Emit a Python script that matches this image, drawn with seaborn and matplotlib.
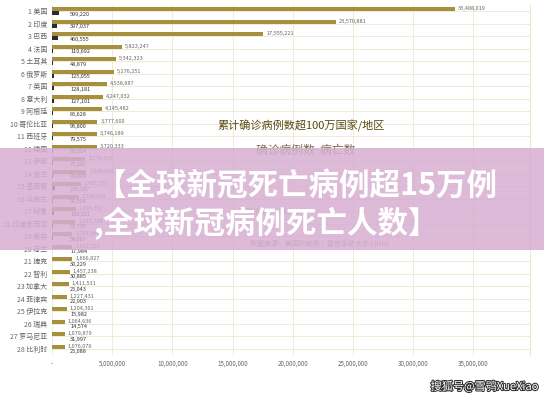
import matplotlib
matplotlib.use("Agg")
import matplotlib.pyplot as plt
import matplotlib.patches as mpatches
import matplotlib.patheffects as pe
import pandas as pd
import seaborn as sns

countries = ["美国", "印度", "巴西", "法国", "土耳其", "俄罗斯", "英国", "意大利", "阿根廷",
             "哥伦比亚", "西班牙", "德国", "伊朗", "波兰", "墨西哥", "乌克兰", "秘鲁",
             "印度尼西亚", "南非", "荷兰", "捷克", "智利", "加拿大", "菲律宾", "伊拉克",
             "瑞典", "罗马尼亚", "比利时"]
confirmed = [33488019, 23570881, 17555221, 5823247, 5342323, 5176251, 4538687, 4247032,
             4145482, 3777600, 3746189, 3720333, 2779415, 2849000, 2405351, 2206838,
             2004302, 1937708, 1701666, 1692155, 1666827, 1457238, 1411531, 1227431,
             1204301, 1064636, 1079879, 1076079]
deaths = [599220, 397037, 460555, 110692, 48879, 125055, 128181, 127101, 85628, 95800,
          79575, 89014, 77281, 74029, 220187, 50594, 188021, 53730, 58007, 17984, 30229,
          30885, 25043, 22903, 15982, 14574, 31997, 25088]
x_ticks = [0, 5_000_000, 10_000_000, 15_000_000, 20_000_000, 25_000_000, 30_000_000, 35_000_000]

plt.rcParams["font.family"] = ["Noto Sans CJK SC", "DejaVu Sans"]

labels = [f"{i + 1} {c}" for i, c in enumerate(countries)]
df = pd.DataFrame({
    "country": labels * 2,
    "value": confirmed + deaths,
    "kind": ["确诊数"] * len(labels) + ["病亡数"] * len(labels),
})

fig = plt.figure(figsize=(5.44, 4.0), dpi=100)
fig.patch.set_facecolor("white")
ax = fig.add_axes([52 / 544, 45 / 400, 478 / 544, 350 / 400])
sns.barplot(data=df, y="country", x="value", hue="kind", orient="h",
            palette={"确诊数": "#b89a2c", "病亡数": "#2b2b2b"},
            width=0.7, gap=0.1, legend=False, ax=ax)

ax.set_xlim(0, 39_700_000)
ax.set_xticks(x_ticks)
ax.set_xticklabels(["-"] + [f"{v:,}" for v in x_ticks[1:]], fontsize=4.5, color="#666666")
ax.tick_params(axis="y", labelsize=5, colors="#666666", length=0)
ax.tick_params(axis="x", length=0)
ax.set_xlabel("")
ax.set_ylabel("")
ax.grid(axis="both", color="#ece8d0", linewidth=0.6)
ax.set_axisbelow(True)
for s in ["top", "bottom", "left"]:
    ax.spines[s].set_visible(False)
ax.spines["right"].set_color("#ece8d0")

for i, (c, d) in enumerate(zip(confirmed, deaths)):
    ax.text(c + 250_000, i - 0.2, f"{c:,}", fontsize=4, color="#666666", va="center")
    ax.text(1_500_000, i + 0.25, f"{d:,}", fontsize=4, color="#333333", va="center")

fig.text(0.40, 0.675, "累计确诊病例数超100万国家/地区", fontsize=8, color="#5a4a10")
fig.text(0.47, 0.615, "确诊病例数  病亡数", fontsize=8.5, color="#7a6a50")
fig.text(0.44, 0.465, "■确诊数        ■病亡数", fontsize=5, color="#888888")
fig.text(0.46, 0.385, "数据来源：美国约翰斯·霍普金斯大学 (JHU)", fontsize=5, color="#888888")

fig.patches.append(mpatches.Rectangle((0, 0.375), 1, 0.255, transform=fig.transFigure,
                                      facecolor="#d6aed2", alpha=0.85, zorder=5))
fig.text(0.545, 0.535, "【全球新冠死亡病例超15万例", fontsize=22, fontweight="bold",
         color="white", ha="center", va="center", zorder=6)
fig.text(0.49, 0.44, ",全球新冠病例死亡人数】", fontsize=22, fontweight="bold",
         color="white", ha="center", va="center", zorder=6)
fig.text(0.99, 0.02, "搜狐号@雪鸮XueXiao", fontsize=8, color="white", ha="right",
         va="bottom", zorder=6,
         path_effects=[pe.withStroke(linewidth=1.5, foreground="#333333")])

fig.savefig("out.png", dpi=100)
